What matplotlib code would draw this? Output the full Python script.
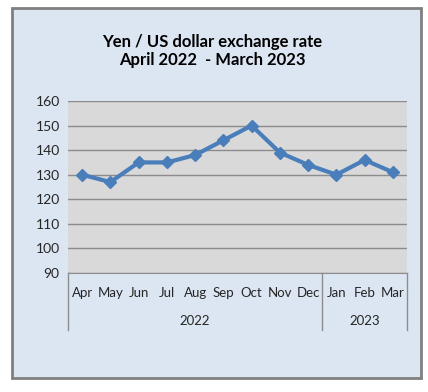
import matplotlib.pyplot as plt
import matplotlib.patches as mpatches
import matplotlib.transforms as mtransforms

months = ["Apr", "May", "Jun", "Jul", "Aug", "Sep", "Oct", "Nov", "Dec", "Jan", "Feb", "Mar"]
rates = [130, 127, 135, 135, 138, 144, 150, 139, 134, 130, 136, 131]
years = ["2022", "2023"]
year_spans = [(0, 8), (9, 11)]
yticks = [90, 100, 110, 120, 130, 140, 150, 160]

W, H = 428, 392
fig = plt.figure(figsize=(W / 100, H / 100), dpi=100)
fig.patch.set_facecolor("white")
plt.rcParams["font.family"] = ["Lato", "DejaVu Sans"]

# outer chart frame (behind the axes)
frame = mpatches.Rectangle((12 / W, 1 - 378 / H), 409 / W, 370 / H,
                           transform=fig.transFigure, facecolor="#DCE6F2",
                           edgecolor="#7F7F7F", linewidth=2, zorder=-10)
fig.patches.append(frame)

ax = fig.add_axes([68 / W, 1 - 273 / H, 339 / W, 172 / H])
ax.set_facecolor("#D9D9D9")
x = list(range(len(months)))
ax.plot(x, rates, color="#4A7EBB", lw=3, marker="D", ms=6, zorder=3)

ax.set_xlim(-0.5, len(months) - 0.5)
ax.set_ylim(90, 160)
ax.set_yticks(yticks)
ax.yaxis.grid(True, color="#8C8C8C", lw=1)
ax.set_axisbelow(True)
for s in ["top", "right", "left"]:
    ax.spines[s].set_visible(False)
ax.spines["bottom"].set_color("#8C8C8C")
ax.tick_params(axis="y", length=0, pad=6, labelsize=10, labelcolor="#262626")
ax.set_xticks(x)
ax.set_xticklabels(months)
ax.tick_params(axis="x", length=0, pad=10, labelsize=9.5, labelcolor="#262626")

# year grouping
trans = mtransforms.blended_transform_factory(ax.transData, ax.transAxes)
low = -57 / 172
for i, (a, b) in enumerate(year_spans):
    ax.text((a + b) / 2, -48 / 172, years[i], transform=trans, ha="center",
            va="center", fontsize=9.5, color="#262626")
for xv in [-0.5, 8.5, 11.5]:
    ax.plot([xv, xv], [0, low], transform=trans, color="#8C8C8C", lw=1,
            clip_on=False)

fig.text(212 / W, 1 - 42 / H, "Yen / US dollar exchange rate",
         ha="center", va="center", fontsize=12, fontweight="bold")
fig.text(212 / W, 1 - 60 / H, "April 2022  - March 2023",
         ha="center", va="center", fontsize=12, fontweight="bold")

fig.savefig("out.png", dpi=100)
